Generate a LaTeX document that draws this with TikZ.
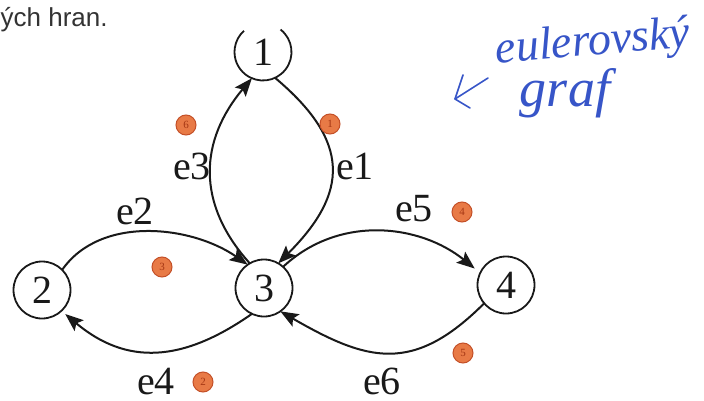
\documentclass[tikz,border=0pt]{standalone}
\usepackage{fontspec}
\setmainfont{Liberation Serif}
\newfontfamily\uisans{Liberation Sans}
\usetikzlibrary{arrows.meta}
\definecolor{ink}{RGB}{25,25,25}
\definecolor{pen}{RGB}{55,85,200}
\definecolor{badgefill}{RGB}{232,122,70}
\definecolor{badgerim}{RGB}{196,80,40}
\definecolor{badgetext}{RGB}{165,55,20}
\begin{document}
\begin{tikzpicture}[x=1pt,y=1pt,
  vertex/.style={circle, draw=ink, line width=1.8pt, minimum size=57pt, inner sep=0pt, outer sep=0pt, font=\fontsize{40}{40}\selectfont, text=ink},
  edge/.style={draw=ink, line width=2pt, -{Stealth[length=18pt,width=14pt,inset=3.5pt]}},
  elabel/.style={anchor=base, font=\fontsize{40}{40}\selectfont, text=ink, inner sep=0pt},
  badge/.style={circle, fill=badgefill, draw=badgerim, line width=1pt, minimum size=20pt, inner sep=0pt, font=\fontsize{11}{11}\selectfont, text=badgetext},
  hand/.style={text=pen, font=\fontsize{46}{46}\selectfont\itshape, inner sep=0pt}]
\useasboundingbox (0,0) rectangle (704,400);
\fill[white] (0,0) rectangle (704,400);

% end of a sentence from the surrounding text
\node[anchor=base west, inner sep=0pt, font=\uisans\fontsize{26}{26}\selectfont, text=black!80] (caption) at (0.5,373) {ých hran.};

% vertices
\node[vertex, draw=none] (n1) at (263,348) {1};
\draw[ink, line width=1.8pt] (n1.52) arc[start angle=52, end angle=-228, radius=28.5pt];
\node[vertex] (n2) at (42,110) {2};
\node[vertex] (n3) at (264,112) {3};
\node[vertex] (n4) at (506,115) {4};

% edges
\draw[edge] (n1.-65) to[out=-40,in=45,looseness=1.37] (n3.60);            % e1
\draw[edge] (n3.120) to[out=132,in=-130,looseness=1.12] (n1.-113);        % e3
\draw[edge] (n2.45) to[out=55,in=145,looseness=0.93] (n3.125);            % e2
\draw[edge,shorten >=5pt] (n3.-115) to[out=-145,in=-40,looseness=1.14] (n2.-47); % e4
\draw[edge,shorten >=7pt] (n3.48) to[out=43,in=141,looseness=1.0] (n4.155);     % e5
\draw[edge] (n4.-140) to[out=-135,in=-30,looseness=1.26] (n3.-55);        % e6

% edge labels
\node[elabel] (l3) at (192,221) {e3};
\node[elabel] (l1) at (355,221) {e1};
\node[elabel] (l2) at (135,176) {e2};
\node[elabel] (l5) at (414,179) {e5};
\node[elabel] (l4) at (156,6) {e4};
\node[elabel] (l6) at (382,6) {e6};

% order of traversal
\node[badge] (b1) at (330,276) {1};
\node[badge] (b2) at (203,18) {2};
\node[badge] (b3) at (162,133) {3};
\node[badge] (b4) at (462,188) {4};
\node[badge] (b5) at (463,47) {5};
\node[badge] (b6) at (186,275) {6};

% handwritten note
\node[hand, rotate=5] (w1) at (593,356) {eulerovský};
\node[hand, anchor=base, font=\fontsize{54}{54}\selectfont\itshape] (w2) at (565,294) {graf};
\coordinate (tip) at (455,301);
\coordinate (shaft) at (488,322);
\coordinate (armA) at (463,325);
\coordinate (armB) at (470,292);
\draw[pen, line width=1.6pt, line cap=round, line join=round] (shaft) -- (tip);
\draw[pen, line width=1.6pt, line cap=round, line join=round] (armA) -- (tip) -- (armB);
\end{tikzpicture}
\end{document}
